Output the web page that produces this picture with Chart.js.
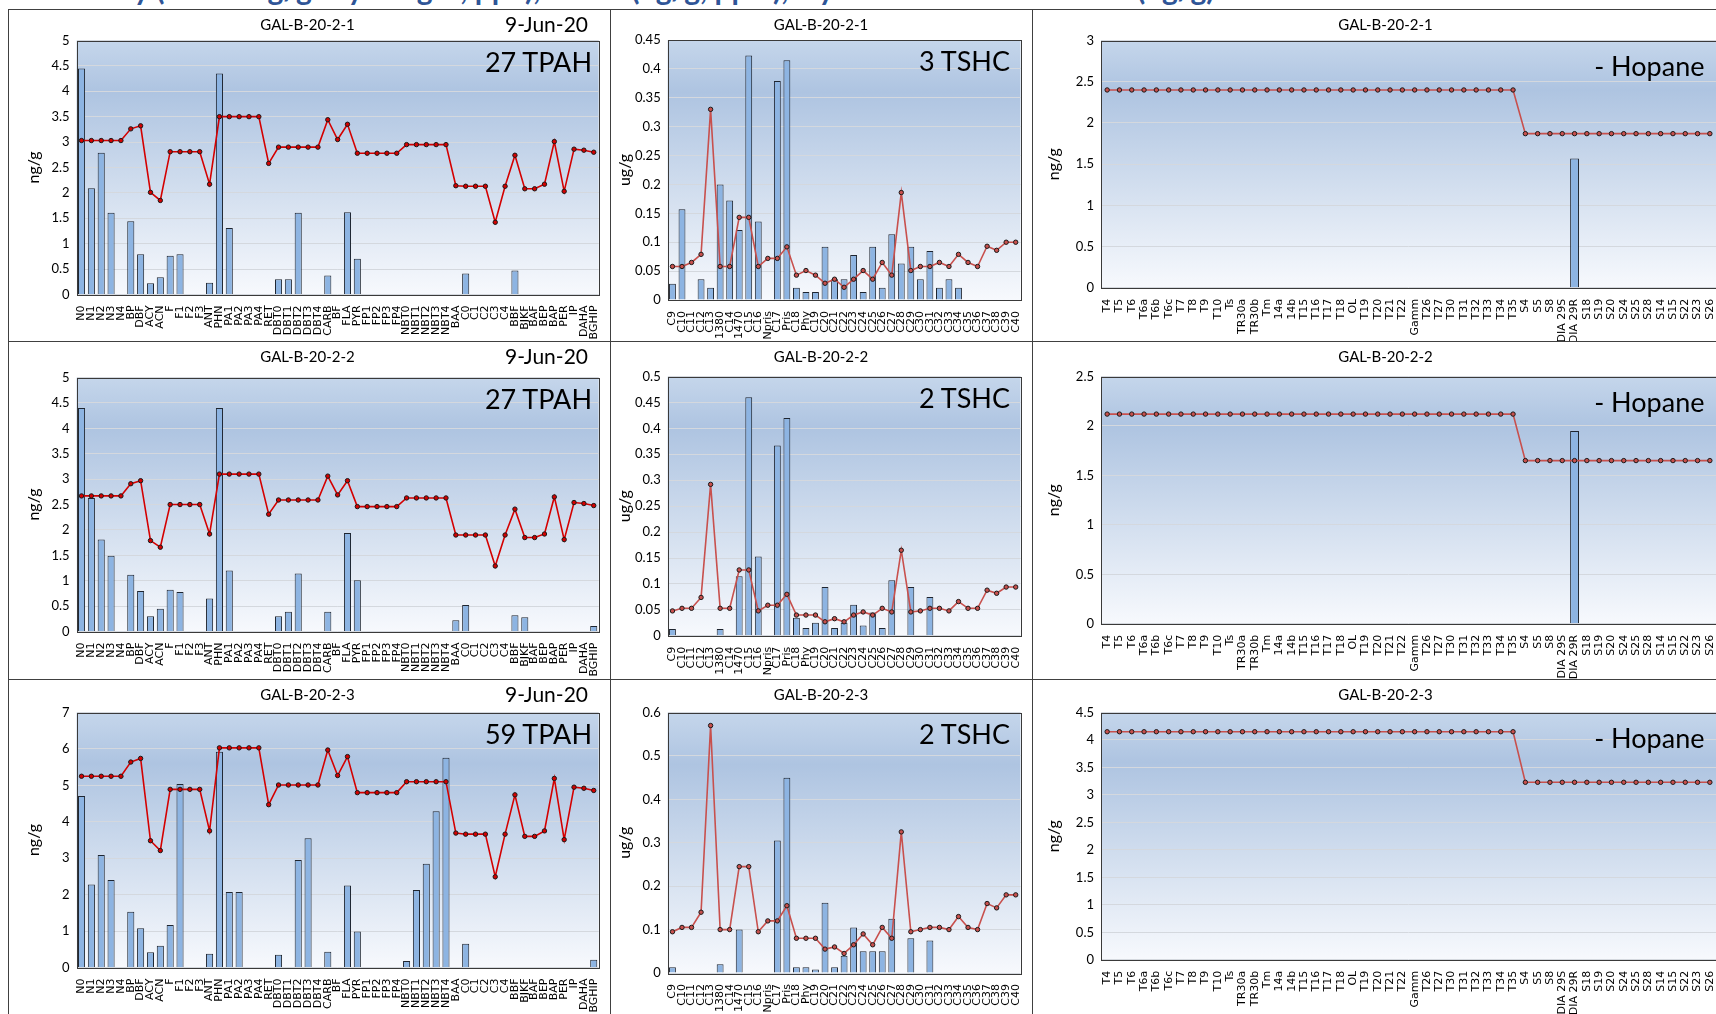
<!DOCTYPE html>
<html><head><meta charset="utf-8">
<script src="https://cdn.jsdelivr.net/npm/chart.js@4/dist/chart.umd.min.js"></script>
<style>
html,body{margin:0;padding:0;background:#fff;overflow:hidden;width:1716px;height:1014px;position:relative;}
.frame{position:absolute;border:1px solid #404040;box-sizing:border-box;}
canvas{position:absolute;}
.txt{position:absolute;font-family:Lato,'Open Sans',sans-serif;color:#000;white-space:nowrap;line-height:1;}
#hdr{position:absolute;left:0;top:0;width:1716px;height:8px;overflow:hidden;}
#hdr span{position:absolute;left:24px;top:-27px;font-family:Lato,sans-serif;font-weight:bold;font-size:30px;line-height:30px;color:#2f5597;white-space:nowrap;}
</style></head><body>
<div id="hdr"><span id="hdrText"></span></div>
<script>
// ---------- DATA ----------
const headerText = 'Summary (TPAH ng/g dry weight, ppb), TSHC (ug/g, ppm), Hydrocarbon Biomarkers (ng/g)';
const pahLabels = ['N0','N1','N2','N3','N4','BP','DBF','ACY','ACN','F','F1','F2','F3','ANT','PHN','PA1','PA2','PA3','PA4','RET','DBT0','DBT1','DBT2','DBT3','DBT4','CARB','BF','FLA','PYR','FP1','FP2','FP3','FP4','NBT0','NBT1','NBT2','NBT3','NBT4','BAA','C0','C1','C2','C3','C4','BBF','BJKF','BAF','BEP','BAP','PER','IP','DAHA','BGHIP'];
const tshcLabels = ['C9','C10','C11','C12','C13','1380','C14','1470','C15','C16','Npris','C17','Pris','C18','Phy','C19','C20','C21','C22','C23','C24','C25','C26','C27','C28','C29','C30','C31','C32','C33','C34','C35','C36','C37','C38','C39','C40'];
const hopLabels = ['T4','T5','T6','T6a','T6b','T6c','T7','T8','T9','T10','Ts','TR30a','TR30b','Tm','14a','14b','T15','T16','T17','T18','OL','T19','T20','T21','T22','Gamm','T26','T27','T30','T31','T32','T33','T34','T35','S4','S5','S8','DIA 29S','DIA 29R','S18','S19','S20','S24','S25','S28','S14','S15','S22','S23','S26'];

const sampleNames = ['GAL-B-20-2-1','GAL-B-20-2-2','GAL-B-20-2-3'];
const sampleDate = '9-Jun-20';
const tpahText = ['27 TPAH','27 TPAH','59 TPAH'];
const tshcText = ['3 TSHC','2 TSHC','2 TSHC'];
const hopText = ['- Hopane','- Hopane','- Hopane'];

const pahBars1 = [4.45,2.09,2.79,1.61,0, 1.44,0.79,0.22,0.34, 0.76,0.79,0,0, 0.23, 4.35,1.31,0,0,0, 0, 0.3,0.3,1.61,0,0, 0.37,0,1.62, 0.7,0,0,0,0, 0,0,0,0,0, 0, 0.41,0,0,0,0, 0.47,0,0,0,0,0,0,0,0];
const pahLine1 = [3.03,3.03,3.03,3.03,3.03, 3.26,3.32,2.01,1.85, 2.81,2.81,2.81,2.81, 2.17, 3.5,3.5,3.5,3.5,3.5, 2.58, 2.9,2.9,2.9,2.9,2.9, 3.44,3.05,3.35, 2.78,2.78,2.78,2.78,2.78, 2.95,2.95,2.95,2.95,2.95, 2.14, 2.13,2.13,2.13,1.42,2.13, 2.74,2.08,2.08,2.17,3.01,2.03,2.86,2.84,2.8];
const pahBars2 = [4.4,2.63,1.81,1.49,0, 1.12,0.8,0.3,0.45, 0.82,0.78,0,0, 0.65, 4.4,1.2,0,0,0, 0, 0.3,0.39,1.14,0,0, 0.39,0,1.94, 1.01,0,0,0,0, 0,0,0,0,0, 0.22, 0.52,0,0,0,0, 0.32,0.28,0,0,0,0,0,0,0.11];
const pahLine2 = [2.67,2.67,2.67,2.67,2.67, 2.91,2.97,1.79,1.66, 2.5,2.5,2.5,2.5, 1.92, 3.1,3.1,3.1,3.1,3.1, 2.31, 2.59,2.59,2.59,2.59,2.59, 3.06,2.69,2.97, 2.46,2.46,2.46,2.46,2.46, 2.63,2.63,2.63,2.63,2.63, 1.9, 1.9,1.9,1.9,1.29,1.9, 2.41,1.85,1.85,1.92,2.65,1.81,2.54,2.52,2.48];
const pahBars3 = [4.71,2.28,3.09,2.4,0, 1.53,1.08,0.42,0.6, 1.17,5.04,0,0, 0.38, 5.92,2.07,2.07,0,0, 0, 0.35,0,2.95,3.55,0, 0.43,0,2.25, 0.99,0,0,0,0, 0.18,2.13,2.85,4.29,5.76, 0, 0.65,0,0,0,0, 0,0,0,0,0,0,0,0,0.21];
const pahLine3 = [5.25,5.25,5.25,5.25,5.25, 5.64,5.74,3.48,3.21, 4.89,4.89,4.89,4.89, 3.75, 6.03,6.03,6.03,6.03,6.03, 4.47, 5.01,5.01,5.01,5.01,5.01, 5.97,5.27,5.79, 4.8,4.8,4.8,4.8,4.8, 5.1,5.1,5.1,5.1,5.1, 3.69, 3.66,3.66,3.66,2.49,3.66, 4.74,3.6,3.6,3.75,5.19,3.51,4.95,4.92,4.86];

const tshcBars1 = [0.028,0.157,0,0.036,0.021,0.2,0.172,0.121,0.423,0.136, 0,0.379,0.415,0.021,0.014,0.014, 0.092,0.036,0.036,0.078,0.014,0.092,0.021,0.114,0.063,0.092,0.036,0.085,0.021,0.036,0.021,0,0,0,0,0,0];
const tshcLine1 = [0.058,0.058,0.065,0.079,0.33,0.058,0.058,0.143,0.143,0.058, 0.072,0.072,0.092,0.043,0.051,0.043, 0.029,0.036,0.022,0.036,0.051,0.036,0.065,0.043,0.186,0.051,0.058,0.058,0.065,0.058,0.079,0.065,0.058,0.093,0.086,0.1,0.1];
const tshcBars2 = [0.013,0,0,0,0,0.013,0,0.115,0.46,0.153, 0,0.367,0.42,0.035,0.015,0.025, 0.094,0.015,0.025,0.06,0.02,0.045,0.015,0.107,0,0.094,0,0.075,0,0,0,0,0,0,0,0,0];
const tshcLine2 = [0.048,0.053,0.053,0.074,0.292,0.053,0.053,0.127,0.127,0.048, 0.059,0.059,0.08,0.04,0.04,0.04, 0.027,0.033,0.027,0.04,0.046,0.04,0.053,0.046,0.165,0.046,0.048,0.053,0.053,0.048,0.066,0.053,0.053,0.088,0.082,0.094,0.094];
const tshcBars3 = [0.013,0,0,0,0,0.02,0,0.1,0,0, 0,0.305,0.45,0.013,0.013,0.008, 0.162,0.013,0.04,0.105,0.05,0.05,0.05,0.125,0,0.08,0,0.075,0,0,0,0,0,0,0,0,0];
const tshcLine3 = [0.095,0.105,0.105,0.14,0.57,0.1,0.1,0.245,0.245,0.095, 0.12,0.12,0.155,0.08,0.08,0.08, 0.055,0.06,0.045,0.065,0.09,0.065,0.105,0.08,0.325,0.095,0.1,0.105,0.105,0.1,0.13,0.105,0.1,0.16,0.15,0.18,0.18];

const hopBars1 = [0,0,0,0,0,0,0,0,0,0, 0,0,0,0,0,0,0,0,0,0, 0,0,0,0,0,0,0,0,0,0, 0,0,0,0,0,0,0,0,1.57,0, 0,0,0,0,0,0,0,0,0,0];
const hopLine1 = [2.4,2.4,2.4,2.4,2.4,2.4,2.4,2.4,2.4,2.4, 2.4,2.4,2.4,2.4,2.4,2.4,2.4,2.4,2.4,2.4, 2.4,2.4,2.4,2.4,2.4,2.4,2.4,2.4,2.4,2.4, 2.4,2.4,2.4,2.4,1.87,1.87,1.87,1.87,1.87,1.87, 1.87,1.87,1.87,1.87,1.87,1.87,1.87,1.87,1.87,1.87];
const hopBars2 = [0,0,0,0,0,0,0,0,0,0, 0,0,0,0,0,0,0,0,0,0, 0,0,0,0,0,0,0,0,0,0, 0,0,0,0,0,0,0,0,1.95,0, 0,0,0,0,0,0,0,0,0,0];
const hopLine2 = [2.12,2.12,2.12,2.12,2.12,2.12,2.12,2.12,2.12,2.12, 2.12,2.12,2.12,2.12,2.12,2.12,2.12,2.12,2.12,2.12, 2.12,2.12,2.12,2.12,2.12,2.12,2.12,2.12,2.12,2.12, 2.12,2.12,2.12,2.12,1.65,1.65,1.65,1.65,1.65,1.65, 1.65,1.65,1.65,1.65,1.65,1.65,1.65,1.65,1.65,1.65];
const hopBars3 = [0,0,0,0,0,0,0,0,0,0, 0,0,0,0,0,0,0,0,0,0, 0,0,0,0,0,0,0,0,0,0, 0,0,0,0,0,0,0,0,0,0, 0,0,0,0,0,0,0,0,0,0];
const hopLine3 = [4.15,4.15,4.15,4.15,4.15,4.15,4.15,4.15,4.15,4.15, 4.15,4.15,4.15,4.15,4.15,4.15,4.15,4.15,4.15,4.15, 4.15,4.15,4.15,4.15,4.15,4.15,4.15,4.15,4.15,4.15, 4.15,4.15,4.15,4.15,3.23,3.23,3.23,3.23,3.23,3.23, 3.23,3.23,3.23,3.23,3.23,3.23,3.23,3.23,3.23,3.23];

const pahMax = [5,5,7], pahStep = [0.5,0.5,1];
const tshcMax = [0.45,0.5,0.6], tshcStep = [0.05,0.05,0.1];
const hopMax = [3,2.5,4.5], hopStep = [0.5,0.5,0.5];

// ---------- LAYOUT ----------
const COLS = [{x:8,w:602},{x:610,w:422},{x:1032,w:708}];
const ROWS = [{y:9,h:332},{y:341,h:338},{y:679,h:337}];
const AREAS = {
  pah:  {left:76.6, right:603, tops:[40.5,377.6,712.5], bottoms:[294.4,631.5,967.5], titlePad:16},
  tshc: {left:667.7, right:1025, tops:[40,376.5,712.5], bottoms:[300,635.8,973], titlePad:5},
  hop:  {left:1101, right:1716, tops:[40.5,376.5,712.5], bottoms:[287.8,623.8,959.8], titlePad:12}
};

document.getElementById('hdrText').textContent = headerText;

const bgPlugin = {
  id:'bgPlot',
  beforeDraw(chart){
    const {ctx, chartArea:a} = chart;
    const g = ctx.createLinearGradient(0,a.top,0,a.bottom);
    g.addColorStop(0,'#c5d6eb');
    g.addColorStop(0.2,'#aec4e1');
    g.addColorStop(0.6,'#d3dfef');
    g.addColorStop(1,'#f7f9fd');
    ctx.save(); ctx.fillStyle=g; ctx.fillRect(a.left,a.top,a.right-a.left,a.bottom-a.top); ctx.restore();
  },
  afterDraw(chart){
    const {ctx, chartArea:a} = chart;
    ctx.save(); ctx.strokeStyle='#3a3a3a'; ctx.lineWidth=1;
    ctx.strokeRect(Math.round(a.left)+0.5,Math.round(a.top)+0.5,Math.round(a.right-a.left),Math.round(a.bottom-a.top));
    ctx.restore();
  }
};

function addText(text, x, y, size, anchor){
  const d = document.createElement('div');
  d.className='txt'; d.textContent=text;
  d.style.fontSize=size+'px';
  d.style.left=x+'px'; d.style.top=y+'px';
  d.style.transform = anchor==='center' ? 'translate(-50%,-50%)' : 'translate(-100%,-50%)';
  document.body.appendChild(d);
}

function fmt(v){ return String(Number(v.toFixed(3))); }

function makePanel(ci, ri, kind, labels, bars, line, yMax, yStep, yTitle, lineColor){
  const col = COLS[ci], row = ROWS[ri], A = AREAS[kind];
  const frame = document.createElement('div');
  frame.className='frame';
  Object.assign(frame.style,{left:col.x+'px',top:row.y+'px',width:(col.w+1)+'px',height:(row.h+1)+'px'});
  document.body.appendChild(frame);
  const cv = document.createElement('canvas');
  cv.width=col.w; cv.height=row.h;
  cv.style.left=col.x+'px'; cv.style.top=row.y+'px';
  document.body.appendChild(cv);
  const padTop = A.tops[ri]-row.y;
  const padRight = col.x+col.w-A.right;
  const yW = A.left-col.x;
  const xH = row.y+row.h-A.bottoms[ri];
  new Chart(cv,{
    type:'bar',
    data:{labels:labels, datasets:[
      {type:'line', data:line, order:0, borderColor:lineColor, borderWidth:1.6, pointRadius:2.2,
       pointBackgroundColor:lineColor, pointBorderColor:'#1a1a1a', pointBorderWidth:1, tension:0},
      {type:'bar', data:bars, order:1, backgroundColor:'#8db4e2', borderColor:'#1e2530', borderWidth:1,
       categoryPercentage:1, barPercentage:0.72}
    ]},
    options:{
      responsive:false, animation:false,
      layout:{padding:{top:padTop,right:padRight,left:0,bottom:0}},
      plugins:{legend:{display:false}, tooltip:{enabled:false}},
      scales:{
        x:{ticks:{autoSkip:false,maxRotation:90,minRotation:90,color:'#000',padding:3,
               font:{family:'DejaVu Sans',size:11}},
           grid:{display:false}, border:{display:false},
           afterFit(s){ s.height = xH; }},
        y:{min:0,max:yMax, ticks:{stepSize:yStep,color:'#000',padding:7,font:{family:'Lato',size:13},callback:(v)=>fmt(v)},
           grid:{color:'#d4d8de',lineWidth:1,drawTicks:false}, border:{display:false},
           title:{display:true,text:yTitle,color:'#000',font:{family:'Lato',size:16},padding:{top:A.titlePad,bottom:0}},
           afterFit(s){ s.width = yW; }}
      }
    },
    plugins:[bgPlugin]
  });
}

const pahBarsAll=[pahBars1,pahBars2,pahBars3], pahLineAll=[pahLine1,pahLine2,pahLine3];
const tshcBarsAll=[tshcBars1,tshcBars2,tshcBars3], tshcLineAll=[tshcLine1,tshcLine2,tshcLine3];
const hopBarsAll=[hopBars1,hopBars2,hopBars3], hopLineAll=[hopLine1,hopLine2,hopLine3];

for(let r=0;r<3;r++){
  makePanel(0,r,'pah',pahLabels,pahBarsAll[r],pahLineAll[r],pahMax[r],pahStep[r],'ng/g','#d40000');
  makePanel(1,r,'tshc',tshcLabels,tshcBarsAll[r],tshcLineAll[r],tshcMax[r],tshcStep[r],'ug/g','#c8504d');
  makePanel(2,r,'hop',hopLabels,hopBarsAll[r],hopLineAll[r],hopMax[r],hopStep[r],'ng/g','#c8504d');
  const ry = ROWS[r].y;
  addText(sampleNames[r], 307.5, ry+15, 15, 'center');
  addText(sampleDate, 588, ry+14, 21, 'right');
  addText(sampleNames[r], 821, ry+15, 15, 'center');
  addText(sampleNames[r], 1385.5, ry+15, 15, 'center');
  addText(tpahText[r], 592, AREAS.pah.tops[r]+20, 27, 'right');
  addText(tshcText[r], 1010, AREAS.tshc.tops[r]+20, 27, 'right');
  addText(hopText[r], 1704.5, AREAS.hop.tops[r]+24, 27, 'right');
}
</script>
</body></html>
